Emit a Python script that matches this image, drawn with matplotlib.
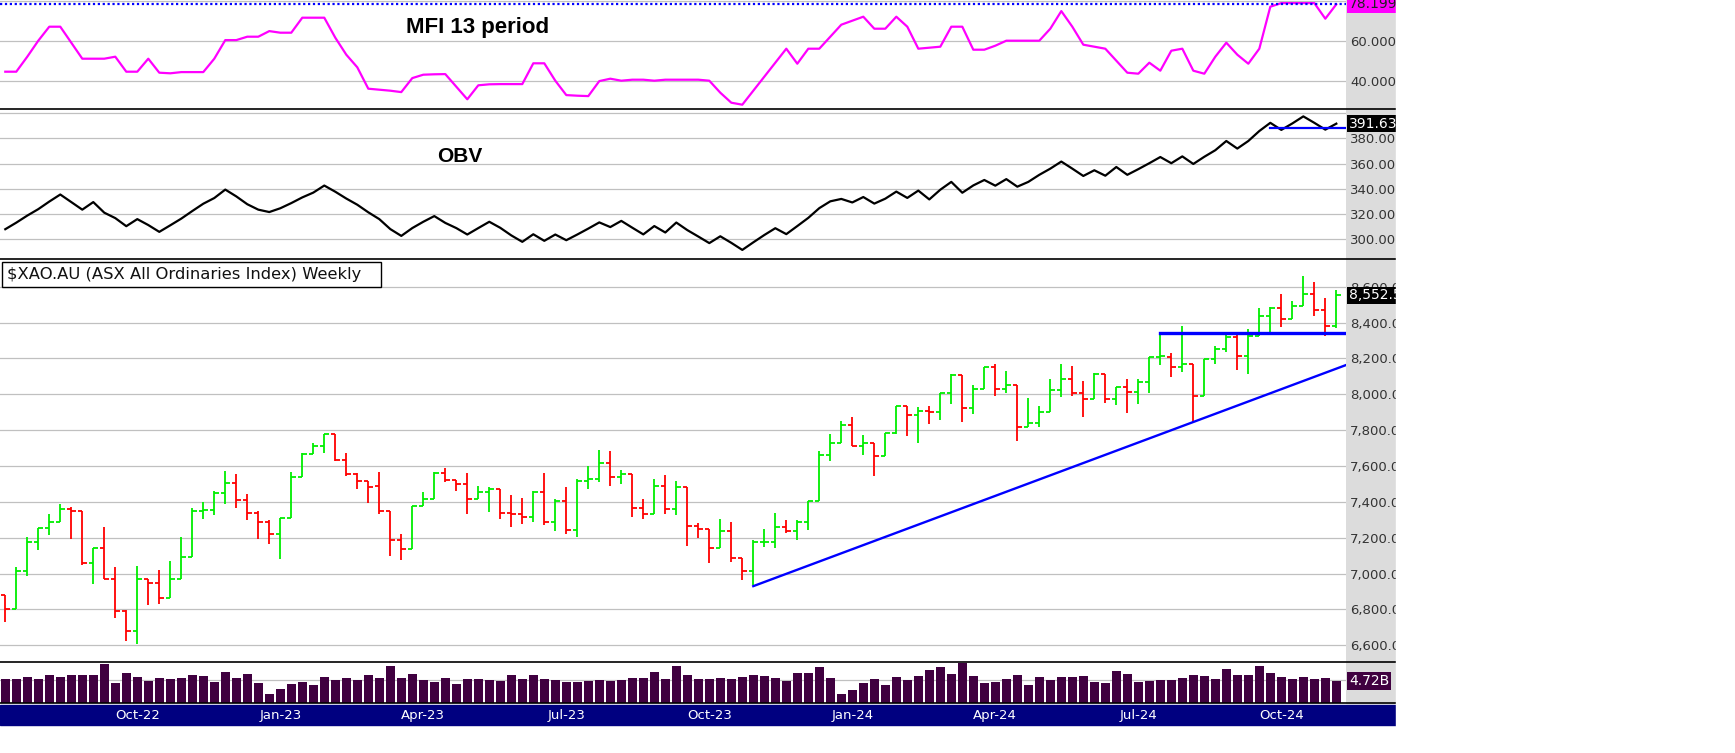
import numpy as np
import pandas as pd
import matplotlib
matplotlib.use('Agg')
import matplotlib.pyplot as plt
from matplotlib.patches import Rectangle
from matplotlib.lines import Line2D

W, H = 1735, 753

#%% Weekly data, $XAO.AU (week ending Friday)
dates = pd.date_range('2022-07-15', periods=122, freq='W-FRI')

opens = [6879, 6801, 7013, 7175, 7253, 7287, 7359, 7348, 7058, 7143,
         6972, 6792, 6680, 6972, 6950, 6866, 6972, 7091, 7348, 7354,
         7448, 7504, 7411, 7337, 7287, 7220, 7311, 7538, 7666, 7711,
         7776, 7633, 7554, 7515, 7491, 7350, 7186, 7136, 7376, 7415,
         7562, 7521, 7499, 7415, 7454, 7473, 7337, 7331, 7314, 7456,
         7285, 7406, 7242, 7517, 7527, 7618, 7538, 7554, 7365, 7331,
         7487, 7359, 7482, 7268, 7247, 7140, 7240, 7089, 7013, 7175,
         7175, 7257, 7240, 7285, 7402, 7659, 7731, 7826, 7714, 7731,
         7653, 7783, 7932, 7882, 7906, 7899, 8007, 8109, 7921, 8027,
         8150, 8027, 8051, 7815, 7840, 7901, 8024, 8086, 8009, 7974,
         8115, 7974, 8043, 8015, 8069, 8210, 8210, 8153, 8169, 7992,
         8195, 8253, 8320, 8214, 8326, 8438, 8479, 8421, 8494, 8557,
         8471, 8382]
highs = [6879, 7035, 7203, 7253, 7333, 7389, 7370, 7348, 7143, 7260,
         7037, 6797, 7043, 6972, 7019, 7069, 7205, 7365, 7400, 7461,
         7573, 7556, 7445, 7348, 7300, 7311, 7567, 7670, 7729, 7780,
         7776, 7673, 7560, 7515, 7567, 7350, 7221, 7376, 7456, 7566,
         7588, 7521, 7562, 7489, 7482, 7473, 7439, 7422, 7461, 7562,
         7415, 7484, 7527, 7601, 7690, 7685, 7577, 7554, 7417, 7527,
         7551, 7517, 7482, 7283, 7247, 7303, 7287, 7089, 7186, 7247,
         7337, 7298, 7298, 7402, 7681, 7778, 7850, 7873, 7772, 7731,
         7783, 7932, 7932, 7927, 7932, 8007, 8113, 8109, 8051, 8150,
         8168, 8129, 8051, 7979, 7936, 8087, 8169, 8155, 8074, 8117,
         8115, 8043, 8084, 8086, 8210, 8333, 8231, 8378, 8169, 8195,
         8270, 8330, 8337, 8365, 8479, 8488, 8559, 8518, 8658, 8624,
         8535, 8583]
lows = [6732, 6801, 6989, 7132, 7216, 7287, 7195, 7047, 6944, 6972,
        6754, 6626, 6609, 6827, 6833, 6866, 6972, 7091, 7305, 7324,
        7389, 7363, 7301, 7195, 7167, 7082, 7311, 7538, 7666, 7670,
        7627, 7543, 7469, 7391, 7335, 7100, 7078, 7136, 7376, 7415,
        7510, 7463, 7335, 7415, 7346, 7307, 7257, 7277, 7290, 7273,
        7240, 7223, 7203, 7473, 7513, 7489, 7502, 7318, 7307, 7331,
        7335, 7329, 7154, 7199, 7060, 7140, 7065, 6965, 6939, 7149,
        7143, 7229, 7188, 7244, 7402, 7629, 7731, 7714, 7662, 7545,
        7653, 7778, 7768, 7729, 7835, 7858, 7947, 7846, 7891, 8027,
        7992, 8008, 7740, 7815, 7815, 7901, 7983, 7992, 7871, 7974,
        7949, 7938, 7897, 7944, 8005, 8162, 8095, 8123, 7838, 7992,
        8168, 8235, 8134, 8115, 8326, 8348, 8374, 8421, 8494, 8436,
        8326, 8371]
closes = [6801, 7013, 7175, 7253, 7287, 7359, 7348, 7058, 7143, 6972,
          6792, 6680, 6972, 6950, 6866, 6972, 7091, 7348, 7354, 7448,
          7504, 7411, 7337, 7287, 7220, 7311, 7538, 7666, 7711, 7776,
          7633, 7554, 7515, 7482, 7350, 7186, 7136, 7376, 7415, 7562,
          7521, 7499, 7415, 7454, 7473, 7337, 7331, 7314, 7456, 7285,
          7406, 7242, 7517, 7527, 7618, 7538, 7554, 7365, 7331, 7487,
          7359, 7482, 7268, 7247, 7140, 7240, 7089, 7013, 7175, 7177,
          7257, 7236, 7285, 7402, 7659, 7731, 7826, 7714, 7731, 7653,
          7783, 7932, 7882, 7908, 7899, 8007, 8109, 7921, 8027, 8150,
          8027, 8051, 7815, 7839, 7901, 8024, 8086, 8005, 7974, 8115,
          7974, 8043, 8015, 8069, 8210, 8212, 8153, 8169, 7992, 8195,
          8253, 8320, 8214, 8326, 8438, 8479, 8421, 8494, 8557, 8471,
          8382, 8552.5]

# volume in billions
volume = [5.15, 5.15, 5.58, 5.15, 6.0, 5.58, 6.0, 6.0, 6.0, 8.37,
          4.29, 6.44, 5.58, 4.72, 5.36, 5.15, 5.36, 6.0, 5.79, 4.5,
          6.65, 5.36, 6.22, 4.29, 1.93, 3.0, 4.07, 4.5, 3.86, 5.58,
          4.93, 5.36, 4.93, 6.0, 5.36, 7.94, 5.36, 6.22, 4.93, 4.5,
          5.36, 4.07, 5.15, 5.15, 4.93, 4.72, 6.0, 5.15, 6.0, 5.15,
          4.93, 4.5, 4.5, 4.72, 4.93, 4.72, 4.93, 5.36, 5.36, 6.65,
          5.15, 7.94, 6.0, 5.15, 5.15, 5.36, 5.15, 5.58, 6.0, 5.79,
          5.36, 4.72, 6.44, 6.44, 7.73, 5.36, 1.93, 2.79, 4.29, 5.15,
          3.86, 5.58, 4.93, 5.79, 7.08, 7.73, 6.22, 8.58, 5.79, 4.29,
          4.5, 5.15, 6.0, 3.86, 5.58, 4.93, 5.58, 5.58, 5.79, 4.5,
          4.29, 6.87, 6.22, 4.5, 4.72, 4.93, 4.93, 5.36, 6.0, 5.79,
          5.15, 7.30, 6.0, 6.0, 7.94, 6.44, 5.58, 5.15, 5.58, 5.15,
          5.36, 4.72]

mfi = [44.5, 44.5, 52, 60, 67, 67, 59, 51, 51, 51,
       52, 44.5, 44.5, 51, 44, 43.7, 44.3, 44.3, 44.3, 51,
       60.3, 60.3, 62, 62, 64.8, 64, 64, 71.5, 71.5, 71.5,
       61.5, 53, 46.7, 36, 35.5, 35, 34.3, 41.3, 43, 43.2,
       43.3, 37, 30.7, 37.7, 38.2, 38.3, 38.3, 38.3, 48.7, 48.7,
       40, 32.8, 32.5, 32.3, 39.8, 41, 40, 40.5, 40.5, 40,
       40.5, 40.5, 40.5, 40.5, 40, 34, 29, 28, 35, 42,
       49, 56, 48.5, 56, 56, 62, 68, 70, 72, 66,
       66, 72, 67, 56, 56.5, 57, 67, 67, 55.5, 55.5,
       57.5, 60, 60, 60, 60, 66, 74.8, 67, 58, 57,
       56, 50, 44, 43.5, 49, 45, 55, 56, 45, 43.5,
       52, 59, 53, 48.5, 56, 77, 78.8, 78.8, 78.8, 78.8,
       71, 78.199]

obv = [308.0, 313.2, 318.8, 323.9, 329.9, 335.5, 329.5, 323.5, 329.5, 321.1,
       316.8, 310.4, 316.0, 311.3, 305.9, 311.1, 316.4, 322.4, 328.2, 332.7,
       339.4, 334.0, 327.8, 323.5, 321.6, 324.6, 328.7, 333.2, 337.0, 342.6,
       337.7, 332.3, 327.4, 321.4, 316.0, 308.1, 302.7, 308.9, 313.9, 318.4,
       313.0, 308.9, 303.8, 308.9, 313.9, 309.1, 303.1, 298.0, 304.0, 298.8,
       303.8, 299.3, 303.8, 308.5, 313.4, 309.7, 314.6, 309.2, 303.9, 310.5,
       305.4, 313.3, 307.3, 302.2, 297.0, 302.4, 297.2, 291.6, 297.6, 303.4,
       308.8, 304.1, 310.5, 317.0, 324.7, 330.1, 332.0, 329.2, 333.5, 328.3,
       332.2, 337.8, 332.8, 338.6, 331.6, 339.3, 345.5, 336.9, 342.7, 347.0,
       342.5, 347.7, 341.7, 345.5, 351.1, 356.0, 361.6, 356.0, 350.2, 354.7,
       350.4, 357.3, 351.1, 355.6, 360.3, 365.2, 360.3, 365.7, 359.7, 365.4,
       370.6, 377.9, 371.9, 377.9, 385.8, 392.3, 386.7, 391.8, 397.4, 392.3,
       386.9, 391.631]

# hand drawn lines (bar index, value)
support_start = (68, 6930)
support_end_value = 8163
resistance_start = (105, 8343)
obv_level_start = (115, 388.4)

mfi_ticks = [40, 60]
obv_ticks = [300, 320, 340, 360, 380]
price_ticks = [6600, 6800, 7000, 7200, 7400, 7600, 7800, 8000, 8200, 8400, 8600]

#%% layout in pixels
PLOT_R = 1346
STRIP_R = 1396
XMIN, XMAX = -0.48, 121.88

fig = plt.figure(figsize=(W / 100, H / 100), dpi=100)
fig.patch.set_facecolor('white')


def px_axes(y0, y1):
    ax = fig.add_axes([0, 1 - y1 / H, PLOT_R / W, (y1 - y0) / H])
    ax.set_xlim(XMIN, XMAX)
    for s in ax.spines.values():
        s.set_visible(False)
    ax.set_xticks([])
    ax.yaxis.tick_right()
    ax.tick_params(axis='y', length=0, pad=3, labelsize=9.5, labelcolor='#333333')
    return ax


def grid(ax, vals):
    for v in vals:
        ax.axhline(v, color='#c0c0c0', lw=0.9, zorder=0)


def value_box(ax, y, txt, fc, tc):
    ax.text(1.0 + 3 / PLOT_R, y, txt, transform=ax.get_yaxis_transform(),
            ha='left', va='center', fontsize=10, color=tc, clip_on=False, zorder=6,
            bbox=dict(boxstyle='square,pad=0.12', fc=fc, ec='none'))


x = np.arange(len(closes))

# grey strip for the value scale
fig.add_artist(Rectangle((PLOT_R / W, 1 - 703 / H), (STRIP_R - PLOT_R) / W, 703 / H,
                         transform=fig.transFigure, color='#dcdcdc', zorder=-5))

#%% MFI panel
ax_m = px_axes(0, 109)
ax_m.set_ylim(25.85, 80.35)
grid(ax_m, [40, 60, 80])
ax_m.plot(x, mfi, color='#ff00ff', lw=1.6, zorder=3)
ax_m.axhline(mfi[-1], color='#0000ff', lw=1.6, ls=(0, (1, 1.2)), zorder=4)
ax_m.set_yticks(mfi_ticks)
ax_m.set_yticklabels(['%.4f' % v for v in mfi_ticks])
value_box(ax_m, mfi[-1], '%.4f' % mfi[-1], '#ff00ff', '#222222')

#%% OBV panel
ax_o = px_axes(109, 259)
ax_o.set_ylim(284.4, 403.25)
grid(ax_o, obv_ticks + [400])
ax_o.plot(x, obv, color='black', lw=1.6, zorder=3)
ax_o.plot([obv_level_start[0], XMAX], [obv_level_start[1]] * 2, color='#0000ff', lw=1.6, zorder=4)
ax_o.set_yticks(obv_ticks)
ax_o.set_yticklabels(['%.4f' % v for v in obv_ticks])
value_box(ax_o, obv[-1], '%.3f' % obv[-1], 'black', 'white')

#%% price panel (OHLC bars)
ax_p = px_axes(259, 662)
ax_p.set_ylim(6506.9, 8754.4)
grid(ax_p, price_ticks)
o = np.array(opens, float)
c = np.array(closes, float)
cols = np.where(c >= o, '#00ee00', '#ff0000')
ax_p.vlines(x, lows, highs, colors=cols, lw=1.3, zorder=3)
ax_p.hlines(o, x - 0.42, x, colors=cols, lw=1.3, zorder=3)
ax_p.hlines(c, x, x + 0.42, colors=cols, lw=1.3, zorder=3)

# trend lines
ax_p.plot([support_start[0], XMAX], [support_start[1], support_end_value], color='#0000ff', lw=1.7, zorder=4)
ax_p.plot([resistance_start[0], XMAX], [resistance_start[1]] * 2, color='#0000ff', lw=2.4, zorder=4)

ax_p.set_yticks(price_ticks)
ax_p.set_yticklabels(['{:,.2f}'.format(v) for v in price_ticks])
value_box(ax_p, closes[-1], '{:,.1f}'.format(closes[-1]), 'black', 'white')

#%% volume panel
ax_v = px_axes(662, 703)
ax_v.set_ylim(0, 8.8)
ax_v.axhline(5, color='#c0c0c0', lw=0.9, zorder=0)
ax_v.bar(x, volume, width=0.8, color='#400040', zorder=3)
ax_v.set_yticks([])
value_box(ax_v, volume[-1], '%.2fB' % volume[-1], '#400040', 'white')

#%% separators, date strip
for yy in [109, 259, 662, 703]:
    fig.add_artist(Line2D([0, STRIP_R / W], [1 - yy / H] * 2, color='black', lw=1.2, zorder=8))

fig.add_artist(Rectangle((0, 1 - 725 / H), STRIP_R / W, 20 / H, transform=fig.transFigure,
                         color='#000080', zorder=8))
for i in range(1, len(dates)):
    d = dates[i]
    if d.month in (1, 4, 7, 10) and dates[i - 1].month != d.month:
        px = 5.3 + 11 * i
        fig.text(px / W, 1 - 715.5 / H, d.strftime('%b-%y'), color='white', fontsize=9.5,
                 ha='center', va='center', zorder=9)

# hide the cut part of the value scale
fig.add_artist(Rectangle((STRIP_R / W, 0), 1 - STRIP_R / W, 1, transform=fig.transFigure,
                         color='white', zorder=10))

#%% titles
fig.add_artist(Rectangle((2 / W, 1 - 287 / H), 379 / W, 25 / H, transform=fig.transFigure,
                         fc='white', ec='black', lw=1.0, zorder=7))
fig.text(7 / W, 1 - 274.5 / H, '$XAO.AU (ASX All Ordinaries Index) Weekly', fontsize=11.8,
         color='#111111', ha='left', va='center', zorder=8)
fig.text(478 / W, 1 - 27 / H, 'MFI 13 period', fontsize=16, fontweight='bold',
         family='Liberation Sans', ha='center', va='center', zorder=8)
fig.text(460 / W, 1 - 157 / H, 'OBV', fontsize=15, fontweight='bold',
         family='Liberation Sans', ha='center', va='center', zorder=8)

fig.savefig('out.png', dpi=100)
